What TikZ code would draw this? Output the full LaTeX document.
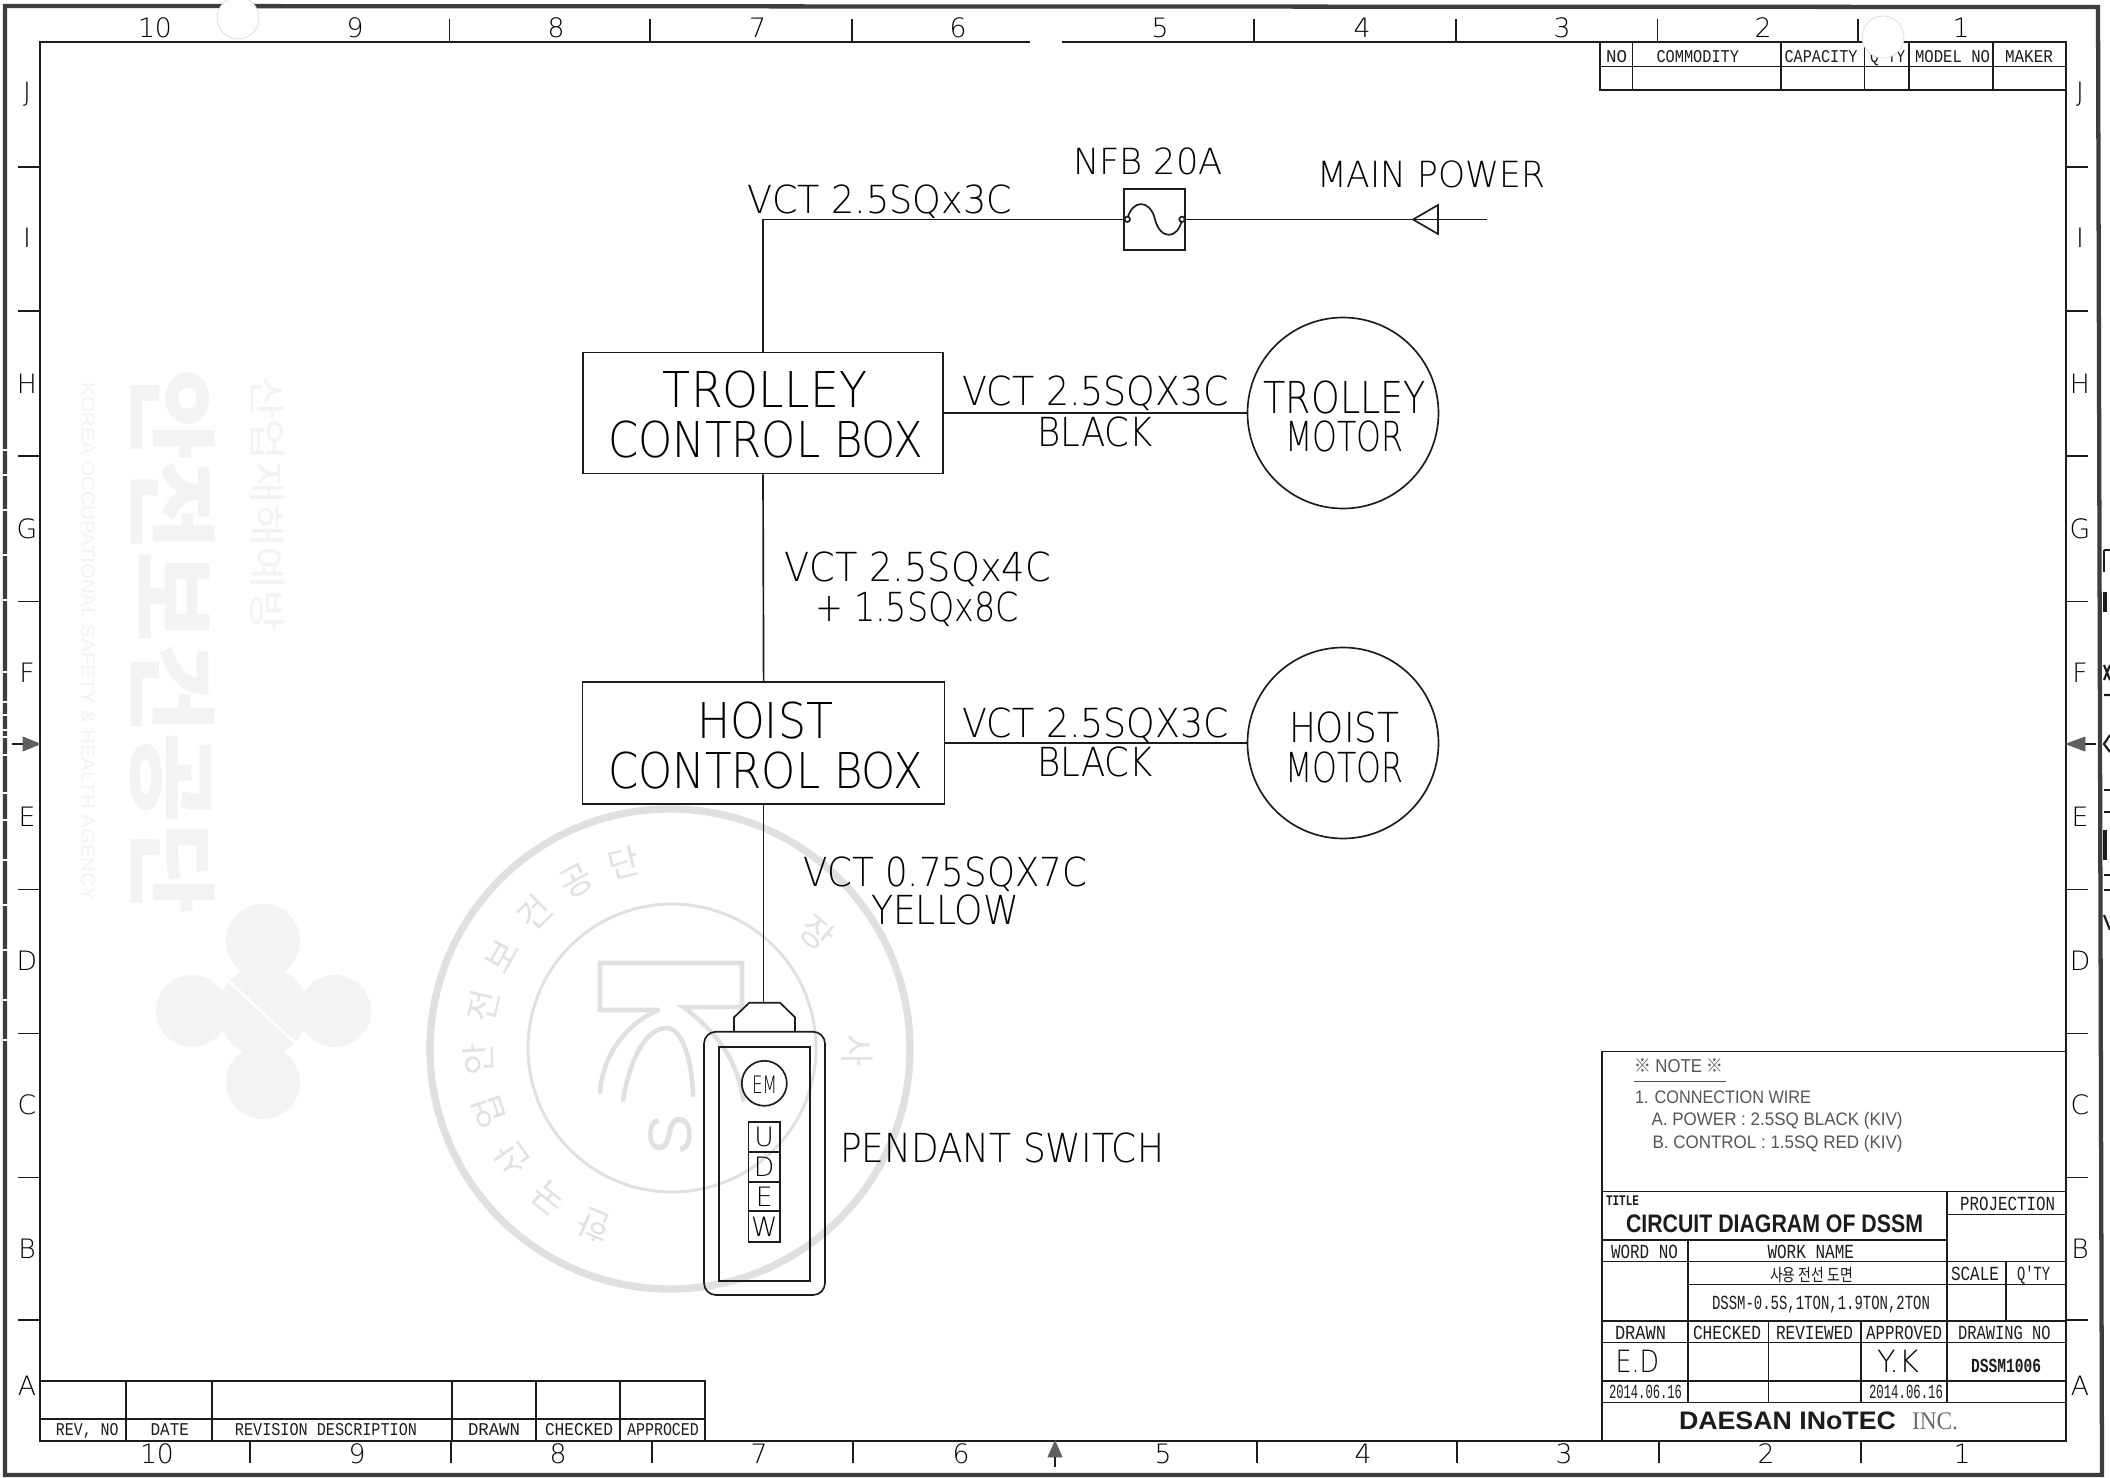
\documentclass[tikz,border=0pt]{standalone}
\usepackage{fontspec}
\usepackage{graphicx}
\newfontfamily\cad{DejaVu Sans ExtraLight}
\newfontfamily\cadsm{Liberation Mono}
\newfontfamily\hel{Liberation Sans}
\newfontfamily\tms{Liberation Serif}
\newfontfamily\cjk{Noto Sans CJK KR}
\newlength\pxu \setlength\pxu{0.75pt}
\newcommand\lb[7][]{\pgfmathsetmacro\lbw{#4-#3}\node[cadtext,#1] (#2) at ({(#3+#4)/2},{#5+0.485*#6}) {\fontsize{#6}{#6}\selectfont\resizebox{\lbw\pxu}{\height}{#7}};}
\definecolor{ink}{HTML}{1C1C1C}
\definecolor{ghost}{HTML}{F3F3F3}
\definecolor{stampc}{HTML}{E0E0E0}
\definecolor{stamptx}{HTML}{E2E2E2}
\tikzset{
  cadtext/.style={inner sep=0pt,anchor=base,font=\cad,text=black},
  small/.style={font=\cadsm,text=ink},
  sans/.style={font=\hel,text=ink!75},
  sansb/.style={font=\hel\bfseries,text=ink},
  wire/.style={draw=ink,line width=1.25pt},
  frameline/.style={draw=ink,line width=1.15pt},
  outerline/.style={draw=ink!85,line width=3.2pt},
  boxnode/.style={draw=ink,line width=1.25pt,inner sep=0pt,fill=none},
  markc/.style={inner sep=0pt,font=\cad\fontsize{20}{20}\selectfont,text=black},
  zonearrow/.style={fill=ink!70,draw=ink!70,line width=.6pt},
  hole/.style={fill=white,draw=black!15,line width=.5pt},
  stampring/.style={draw=stampc,line cap=round},
  stamptext/.style={inner sep=0pt,font=\cjk\fontsize{26}{26}\selectfont,text=stamptx},
}
\begin{document}
\begin{tikzpicture}[x=0.75pt,y=-0.75pt]
\useasboundingbox (0,0) rectangle (2110,1478);
\fill[white] (0,0) rectangle (2110,1478);
% --- ghost print-through
\node[inner sep=0pt,rotate=-90,font=\cjk\bfseries\fontsize{68}{68}\selectfont,text=ghost] (ghostA) at (172,642) {\resizebox{545\pxu}{\height}{안전보건공단}};
\node[inner sep=0pt,rotate=-90,font=\hel\fontsize{14}{14}\selectfont,text=ghost] (ghostB) at (88,642) {\resizebox{518\pxu}{\height}{KOREA OCCUPATIONAL SAFETY \& HEALTH AGENCY}};
\node[inner sep=0pt,rotate=-90,font=\cjk\fontsize{28}{28}\selectfont,text=ghost] (ghostC) at (267,504) {\resizebox{255\pxu}{\height}{산업재해예방}};
\fill[ghost] (263,941) circle[radius=37] (335,1011) circle[radius=36] (192,1011) circle[radius=36] (263,1082) circle[radius=37] (263,1011) circle[radius=45];
\draw[white,line width=2pt] (190,945) -- (335,1080);
% --- stamp
\draw[stampring,line width=5.5pt] (670,1049) circle[radius=240];
\draw[stampring,line width=2.2pt] (672,1048) circle[radius=144];
\begin{scope}[stampring,line width=3.4pt]
\draw (658,1010) -- (600,1010) -- (600,963) -- (742,963) -- (742,1007) -- (683,1007) .. controls (715,1030) and (738,1060) .. (743,1100);
\draw (658,1010) .. controls (625,1025) and (603,1055) .. (600,1092);
\draw (623,1100) .. controls (630,1060) and (645,1028) .. (667,1028) .. controls (682,1028) and (692,1060) .. (693,1095);
\end{scope}
\node[inner sep=0pt,rotate=90,font=\hel\fontsize{46}{46}\selectfont,text=stampc] (ghostS) at (670,1135) {S};
\foreach \a/\c [count=\i] in {247/한,231/국,215/산,199/업,183/안,167/전,151/보,135/건,119/공,104/단}
  \node[stamptext,rotate=\a-90] (st\i) at ({670+192*cos(\a)},{1049-192*sin(\a)}) {\c};
\node[stamptext,rotate=-90] (stS) at (857,1050) {사};
\node[stamptext,rotate=-40] (stJ) at (817,933) {장};
% --- frames
\draw[outerline] (5,6) -- (2098,7) -- (2102,1475) -- (5,1475) -- cycle;
\draw[frameline] (40,42) -- (2066,42) -- (2066,1441) -- (40,1441) -- cycle;
\foreach \y in {450,475,510,555,600,672,702,715,730,737,755,793,820,860,905,950,1000,1040}
  \draw[white,line width=1.6pt] (2,\y) -- (9,\y);
\fill[white] (1030,37) rectangle (1062,47);
\foreach \x in {449.5,650,852,1254,1456,1657.5,1858} \draw[frameline] (\x,19) -- (\x,42);
\foreach \x in {250,451,652,853,1257,1457,1659,1861} \draw[frameline] (\x,1441) -- (\x,1463);
\foreach \y in {167,311,456,601.5,889.5,1033.5,1177.5,1320} {
  \draw[frameline] (18,\y) -- (40,\y);
  \draw[frameline] (2066,\y) -- (2088,\y);
}
\fill[zonearrow] (40,744) -- (23,737) -- (23,751) -- cycle;
\draw[frameline] (12,744) -- (23,744);
\fill[zonearrow] (2066,744) -- (2085,737) -- (2085,751) -- cycle;
\draw[frameline] (2085,744) -- (2096,744);
\fill[zonearrow] (1055,1441) -- (1048,1457) -- (1062,1457) -- cycle;
\draw[frameline] (1055,1457) -- (1055,1467);
\foreach \t/\x in {10/155,9/355,8/556,7/757.6,6/958,5/1160,4/1362,3/1562,2/1763,1/1961}
  \node[markc] (top\t) at (\x,28) {\t};
\foreach \t/\x in {10/157,9/357,8/558,7/759,6/961,5/1163,4/1363,3/1564,2/1766,1/1962}
  \node[markc] (bot\t) at (\x,1454) {\t};
\foreach \t/\y in {J/94,I/238,H/383.5,G/529,F/673,E/817,D/961,C/1105,B/1249,A/1386} {
  \node[markc] (left\t) at (27,\y) {\t};
  \node[markc] (right\t) at (2080,\y) {\t};
}
% --- parts list table (top right)
\draw[frameline] (1600,42) -- (1600,90) -- (2066,90);
\draw[frameline] (1600,66.5) -- (2066,66.5);
\foreach \x in {1632.5,1781,1864.5,1909,1993} \draw[frameline] (\x,42) -- (\x,90);
\lb[small]{tNo}{1606}{1627}{55.5}{13.5}{NO}
\lb[small]{tCom}{1656.5}{1739}{55.5}{13.5}{COMMODITY}
\lb[small]{tCap}{1784.5}{1857.5}{55.5}{13.5}{CAPACITY}
\lb[small]{tQty}{1870}{1905}{55.5}{13.5}{Q'TY}
\lb[small]{tMod}{1915}{1990}{55.5}{13.5}{MODEL NO}
\lb[small]{tMak}{2005}{2053}{55.5}{13.5}{MAKER}
% --- revision table (bottom left)
\draw[frameline] (40,1381) -- (705,1381) -- (705,1441);
\draw[frameline] (40,1419) -- (705,1419);
\foreach \x in {126,212,452,536,620} \draw[frameline] (\x,1381) -- (\x,1441);
\lb[small]{rRev}{56}{118.5}{1429}{13.5}{REV, NO}
\lb[small]{rDate}{150.6}{189}{1429}{13.5}{DATE}
\lb[small]{rDesc}{235}{417}{1429}{13.5}{REVISION DESCRIPTION}
\lb[small]{rDrawn}{468}{520}{1429}{13.5}{DRAWN}
\lb[small]{rChk}{545}{613}{1429}{13.5}{CHECKED}
\lb[small]{rApp}{627}{699}{1429}{13.5}{APPROCED}
% --- title block
\begin{scope}[shift={(0,-1.7)}]
\draw[frameline] (1602,1442) -- (1602,1053) -- (2066,1053);
\draw[frameline] (1602,1193) -- (2066,1193);
\draw[frameline] (1947,1216) -- (2066,1216);
\draw[frameline] (1602,1241.7) -- (1947,1241.7);
\draw[frameline] (1602,1263) -- (2066,1263);
\draw[frameline] (1688,1286) -- (2066,1286);
\draw[frameline] (1602,1322.7) -- (2066,1322.7);
\draw[frameline] (1602,1344) -- (2066,1344);
\draw[frameline] (1602,1382.7) -- (2066,1382.7);
\draw[frameline] (1602,1404) -- (2066,1404);
\draw[frameline] (1947,1193) -- (1947,1404);
\draw[frameline] (1688,1241.7) -- (1688,1404);
\draw[frameline] (1768.5,1322.7) -- (1768.5,1404);
\draw[frameline] (1861,1322.7) -- (1861,1404);
\draw[frameline] (2006,1263) -- (2006,1322.7);
\lb[sans]{nNote}{1634}{1723.6}{1067}{14}{{\cjk ※} NOTE {\cjk ※}}
\draw[ink!80,line width=1pt] (nNote.base west) ++(0,9.5) -- ++(92,0);
\lb[sans]{n1}{1635}{1811}{1099}{13.6}{1. CONNECTION WIRE}
\lb[sans]{n2}{1651.6}{1902.6}{1120.7}{13.6}{A. POWER : 2.5SQ BLACK (KIV)}
\lb[sans]{n3}{1652.6}{1902.6}{1144}{13.6}{B. CONTROL : 1.5SQ RED (KIV)}
\lb[small,font=\cadsm\bfseries]{bTitle}{1606}{1639}{1201.7}{11}{TITLE}
\lb[sansb]{bMain}{1626}{1923}{1225}{19}{CIRCUIT DIAGRAM OF DSSM}
\lb[small]{bProj}{1960}{2055}{1205}{15}{PROJECTION}
\lb[small]{bWord}{1611}{1678}{1253}{15}{WORD NO}
\lb[small]{bWork}{1767.5}{1854}{1253}{15}{WORK NAME}
\lb[small,font=\cjk]{bKor}{1770}{1853}{1276.7}{13}{사용 전선 도면}
\lb[small]{bScale}{1951}{1999}{1275}{15}{SCALE}
\lb[small]{bQty}{2017}{2050}{1275}{15}{Q'TY}
\lb[small]{bModels}{1712}{1930}{1304}{15}{DSSM-0.5S,1TON,1.9TON,2TON}
\lb[small]{bDrawn}{1615}{1666}{1334}{15}{DRAWN}
\lb[small]{bChecked}{1693}{1761}{1334}{15}{CHECKED}
\lb[small]{bReview}{1776}{1853}{1334}{15}{REVIEWED}
\lb[small]{bApprov}{1866}{1942}{1334}{15}{APPROVED}
\lb[small]{bDrwNo}{1958}{2050.6}{1334}{15}{DRAWING NO}
\lb{bED}{1615.5}{1659}{1363}{23}{E.D}
\lb{bYK}{1877}{1919}{1363}{23}{Y.K}
\lb[small,font=\cadsm\bfseries]{bNum}{1971}{2041}{1367}{15}{DSSM1006}
\lb[small]{bDate1}{1609}{1682}{1393}{15}{2014.06.16}
\lb[small]{bDate2}{1869}{1943}{1393}{15}{2014.06.16}
\lb[sansb]{bCo}{1679}{1896}{1422}{19}{DAESAN INoTEC}
\lb[font=\tms,text=ink!65]{bInc}{1912}{1958}{1422}{19}{INC.}
\end{scope}
% --- circuit
\node[boxnode,minimum width=360.6*0.75pt,minimum height=121*0.75pt] (trolley) at (763,413) {};
\node[boxnode,minimum width=361.9*0.75pt,minimum height=121.7*0.75pt] (hoist) at (763.6,743) {};
\node[boxnode,circle,minimum size=191*0.75pt] (tmotor) at (1343,413) {};
\node[boxnode,circle,minimum size=191*0.75pt] (hmotor) at (1343,743) {};
\node[boxnode,minimum size=60.7*0.75pt] (nfb) at (1154.6,219.5) {};
\coordinate (mainend) at (1487,219.5);
\coordinate (capTop) at (763.6,1002.7);
\draw[wire] (trolley.north) |- (nfb.west);
\draw[wire] (nfb.east) -- (mainend);
\draw[wire] (trolley.south) -- (hoist.north);
\draw[wire] (hoist.south) -- (capTop);
\draw[wire] (trolley.east) -- (tmotor.west);
\draw[wire] (hoist.east) -- (hmotor.west);
\draw[wire] (1127.3,219.3) .. controls (1132,199) and (1150,199) .. (1155,219.3) .. controls (1160,240) and (1178,240) .. (1182,219.3);
\draw[wire,fill=white] (1127.3,219.3) circle[radius=2.7] (1182,219.3) circle[radius=2.7];
\draw[wire] (1413,219.5) -- (1438,205) -- (1438,234) -- cycle;
% pendant
\draw[wire] (734,1031.7) -- (734,1017.3) -- (749.3,1002.7) -- (780,1002.7) -- (795,1017.3) -- (795,1031.7);
\draw[wire,rounded corners=12*0.75pt] (704,1031.7) rectangle (825,1295);
\draw[wire] (719,1046.7) rectangle (810,1281);
\node[boxnode,circle,minimum size=45*0.75pt] (em) at (764.3,1083.3) {};
\lb{emT}{752}{777}{1085}{18}{EM}
\foreach \t/\a/\b [count=\i] in {U/1122.3/1152.3,D/1152.3/1181.7,E/1181.7/1211,W/1211/1241.7} {
  \node[boxnode,minimum width=31.7*0.75pt,minimum height=(\b-\a)*0.75pt] (sw\t) at (764.2,{(\a+\b)/2}) {};
  \node[inner sep=0pt,font=\cad\fontsize{20}{20}\selectfont] (swt\t) at (764.2,{(\a+\b)/2}) {\t};
}
% labels
\lb{lWire}{747}{1012}{199}{29}{VCT 2.5SQx3C}
\lb{lNfb}{1073}{1223}{161}{27}{NFB 20A}
\lb{lMain}{1317}{1545}{174}{27}{MAIN POWER}
\lb{lTr}{663}{867}{390}{37}{TROLLEY}
\lb{lTrB}{608}{923}{440}{37}{CONTROL BOX}
\lb{lTrW}{962}{1229}{391}{30}{VCT 2.5SQX3C}
\lb{lTrWb}{1037.5}{1153}{432}{30}{BLACK}
\lb{lTm}{1263.6}{1426}{397}{33}{TROLLEY}
\lb{lTmB}{1285}{1403.6}{436}{31}{MOTOR}
\lb{lMid}{784.5}{1051}{566.5}{30}{VCT 2.5SQx4C}
\lb{lMidB}{815.5}{1019}{607}{30}{+ 1.5SQx8C}
\lb{lHo}{697}{833}{721}{37}{HOIST}
\lb{lHoB}{608}{923}{771}{37}{CONTROL BOX}
\lb{lHoW}{962}{1229}{723}{30}{VCT 2.5SQX3C}
\lb{lHoWb}{1037.5}{1153}{762}{30}{BLACK}
\lb{lHm}{1289}{1399.5}{727}{31}{HOIST}
\lb{lHmB}{1285}{1403.6}{767}{31}{MOTOR}
\lb{lPen}{803}{1087}{872}{30}{VCT 0.75SQX7C}
\lb{lPenB}{871}{1019}{910}{30}{YELLOW}
\lb{lSw}{840}{1164}{1148}{30}{PENDANT SWITCH}
% --- punch holes
\draw[hole] (238,18) circle[radius=21];
\draw[hole] (1883,37) circle[radius=21];
% --- edge scraps of the next sheet
\begin{scope}[ink,line width=1.6pt]
\draw (2104,550) -- (2110,550) (2104,550) -- (2104,572);
\draw[line width=3pt] (2105,592) -- (2105,612);
\draw (2104,665) -- (2110,680) (2104,680) -- (2110,665) (2104,695) -- (2110,695);
\draw (2110,735) -- (2104,744) -- (2110,752);
\draw (2104,790) -- (2110,790) (2104,812) -- (2110,812);
\draw[line width=3pt] (2105,830) -- (2105,860);
\draw (2104,875) -- (2110,875) (2104,890) -- (2110,890);
\draw (2104,915) -- (2110,930);
\end{scope}
\end{tikzpicture}
\end{document}
